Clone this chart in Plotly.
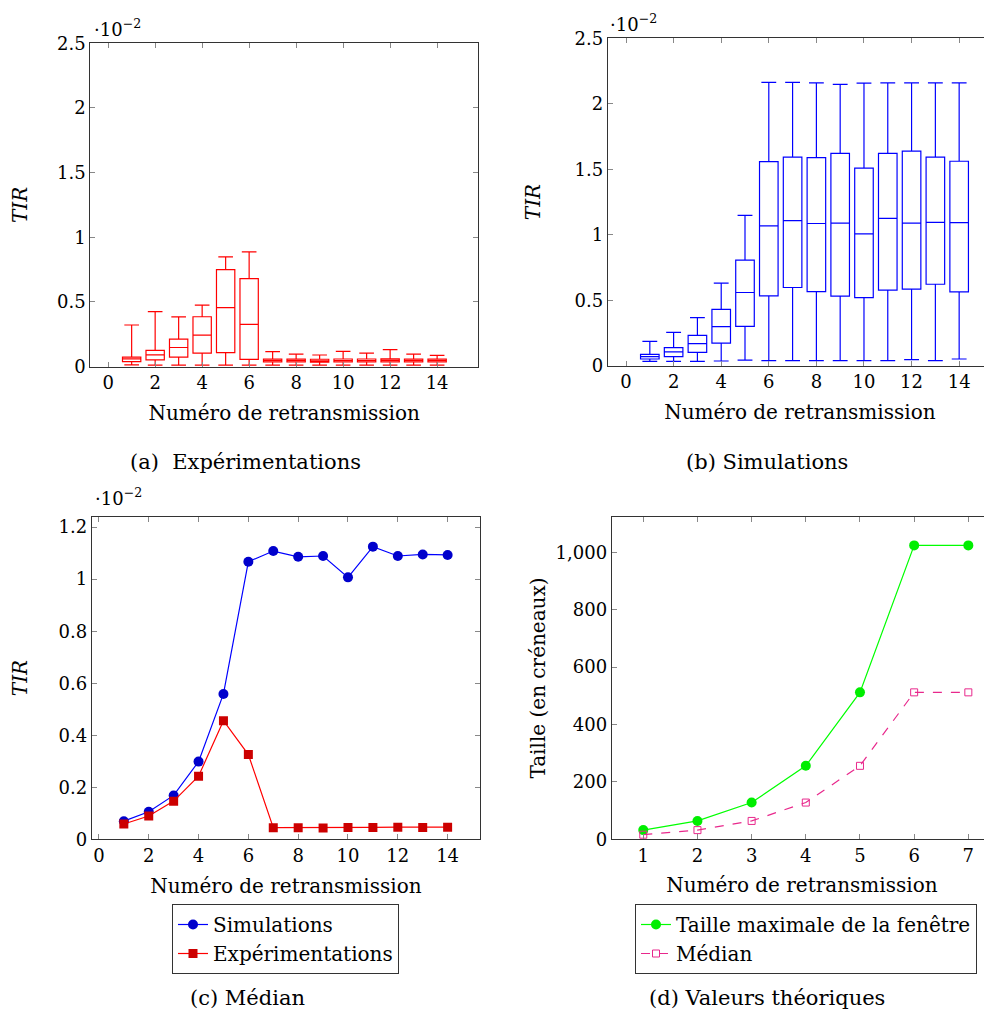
import plotly.graph_objects as go

# ---------------- data ----------------
retrans = list(range(1, 15))

# (a) Expérimentations  (TIR, units of 1e-2)
exp_low = [0.013, 0.010, 0.010, 0.010, 0.010, 0.010, 0.010, 0.010, 0.010, 0.010, 0.010, 0.010, 0.010, 0.010]
exp_q1 = [0.037, 0.052, 0.072, 0.104, 0.107, 0.055, 0.035, 0.035, 0.034, 0.035, 0.035, 0.036, 0.035, 0.036]
exp_med = [0.059, 0.090, 0.147, 0.243, 0.456, 0.326, 0.045, 0.045, 0.044, 0.046, 0.046, 0.047, 0.046, 0.047]
exp_q3 = [0.072, 0.125, 0.211, 0.385, 0.750, 0.680, 0.057, 0.057, 0.056, 0.058, 0.058, 0.059, 0.057, 0.058]
exp_up = [0.321, 0.425, 0.384, 0.474, 0.848, 0.886, 0.115, 0.096, 0.089, 0.117, 0.104, 0.131, 0.096, 0.086]

# (b) Simulations (TIR, units of 1e-2)
sim_low = [0.033, 0.033, 0.033, 0.036, 0.043, 0.038, 0.038, 0.038, 0.038, 0.038, 0.038, 0.046, 0.038, 0.051]
sim_q1 = [0.051, 0.069, 0.102, 0.173, 0.301, 0.533, 0.597, 0.566, 0.531, 0.520, 0.577, 0.584, 0.622, 0.564]
sim_med = [0.070, 0.106, 0.169, 0.299, 0.559, 1.067, 1.108, 1.086, 1.089, 1.007, 1.125, 1.089, 1.095, 1.093]
sim_q3 = [0.087, 0.138, 0.232, 0.430, 0.806, 1.559, 1.592, 1.589, 1.622, 1.508, 1.622, 1.638, 1.592, 1.561]
sim_up = [0.186, 0.255, 0.367, 0.630, 1.148, 2.163, 2.163, 2.160, 2.148, 2.158, 2.160, 2.160, 2.160, 2.160]

# (d) Valeurs théoriques
retrans_d = [1, 2, 3, 4, 5, 6, 7]
taille_max = [32, 64, 128, 256, 512, 1024, 1024]
taille_med = [16, 32, 64, 128, 256, 512, 512]

# ---------------- layout helpers ----------------
W, H = 992, 1014
OFF = 8  # page body margin
FONT = "DejaVu Serif"
FS = 18   # tick labels
FT = 20   # axis titles / legend
FC = 21   # sub-captions


def fx(px):
    return (px - OFF) / W


def fy(py):
    return 1 - (py - OFF) / H


fig = go.Figure()

box_common = dict(boxpoints=False, showlegend=False, fillcolor="rgba(0,0,0,0)",
                  width=0.78, whiskerwidth=0.8, hoverinfo="skip")

fig.add_trace(go.Box(x=retrans, q1=exp_q1, median=exp_med, q3=exp_q3,
                     lowerfence=exp_low, upperfence=exp_up,
                     line=dict(color="#ff0000", width=1.2),
                     xaxis="x", yaxis="y", **box_common))

fig.add_trace(go.Box(x=retrans, q1=sim_q1, median=sim_med, q3=sim_q3,
                     lowerfence=sim_low, upperfence=sim_up,
                     line=dict(color="#0000ff", width=1.2),
                     xaxis="x2", yaxis="y2", **box_common))

fig.add_trace(go.Scatter(x=retrans, y=sim_med, mode="lines+markers", name="Simulations",
                         line=dict(color="#0000ff", width=1.2),
                         marker=dict(symbol="circle", size=10, color="#0000cc"),
                         xaxis="x3", yaxis="y3", legend="legend"))
fig.add_trace(go.Scatter(x=retrans, y=exp_med, mode="lines+markers", name="Expérimentations",
                         line=dict(color="#ff0000", width=1.2),
                         marker=dict(symbol="square", size=9, color="#cc0000"),
                         xaxis="x3", yaxis="y3", legend="legend"))

fig.add_trace(go.Scatter(x=retrans_d, y=taille_max, mode="lines+markers",
                         name="Taille maximale de la fenêtre",
                         line=dict(color="#00ff00", width=1.2),
                         marker=dict(symbol="circle", size=10, color="#00ee00"),
                         xaxis="x4", yaxis="y4", legend="legend2"))
fig.add_trace(go.Scatter(x=retrans_d, y=taille_med, mode="lines+markers", name="Médian",
                         line=dict(color="#e8288c", width=1.2, dash="dash"),
                         marker=dict(symbol="square-open", size=7, color="#e8288c",
                                     line=dict(width=1, color="#e8288c")),
                         xaxis="x4", yaxis="y4", legend="legend2"))

tickfont = dict(family=FONT, size=FS, color="black")
axis_common = dict(showline=True, linecolor="#333333", linewidth=1, mirror="allticks",
                   ticks="inside", ticklen=5, tickcolor="#888888", showgrid=False,
                   zeroline=False, tickfont=tickfont, automargin=False)


def xtitle(text):
    return dict(text=text, font=dict(family=FONT, size=FT, color="black"), standoff=13)


def ytitle(text, standoff):
    return dict(text=text, font=dict(family=FONT, size=FT, color="black"), standoff=standoff)


fig.update_layout(
    width=W, height=H, template="none",
    paper_bgcolor="white", plot_bgcolor="white",
    margin=dict(l=0, r=0, t=0, b=0),
    font=dict(family=FONT, size=FS, color="black"),
    xaxis=dict(domain=[fx(90.3), fx(478)], anchor="y", range=[-0.76, 15.74],
               tickvals=list(range(0, 15, 2)), title=xtitle("Numéro de retransmission"), **axis_common),
    yaxis=dict(domain=[fy(366.5), fy(43.3)], anchor="x", range=[0, 2.5], dtick=0.5,
               title=ytitle("<i>TIR</i>", 28), **axis_common),
    xaxis2=dict(domain=[fx(607.7), fx(992)], anchor="y2", range=[-0.77, 15.38],
                tickvals=list(range(0, 15, 2)), title=xtitle("Numéro de retransmission"), **axis_common),
    yaxis2=dict(domain=[fy(365.7), fy(38.3)], anchor="x2", range=[0, 2.5], dtick=0.5,
                title=ytitle("<i>TIR</i>", 28), **axis_common),
    xaxis3=dict(domain=[fx(91.7), fx(480)], anchor="y3", range=[-0.29, 15.3],
                tickvals=list(range(0, 15, 2)), title=xtitle("Numéro de retransmission"), **axis_common),
    yaxis3=dict(domain=[fy(839.4), fy(516.7)], anchor="x3", range=[0, 1.24], dtick=0.2,
                title=ytitle("<i>TIR</i>", 28), **axis_common),
    xaxis4=dict(domain=[fx(611.7), fx(992)], anchor="y4", range=[0.417, 7.437],
                tickvals=retrans_d, title=xtitle("Numéro de retransmission"), **axis_common),
    yaxis4=dict(domain=[fy(839.3), fy(516.7)], anchor="x4", range=[0, 1124], dtick=200,
                tickformat=",", title=ytitle("Taille (en créneaux)", 4), **axis_common),
    legend=dict(x=fx(285.5), y=fy(904), xanchor="center", yanchor="top",
                bordercolor="#333333", borderwidth=1, bgcolor="white",
                font=dict(family=FONT, size=FT, color="black"), tracegroupgap=0),
    legend2=dict(x=fx(806), y=fy(904), xanchor="center", yanchor="top",
                 bordercolor="#333333", borderwidth=1, bgcolor="white",
                 font=dict(family=FONT, size=FT, color="black"), tracegroupgap=0),
)

annots = [
    dict(x=fx(92), y=fy(28), text="·10<sup>−2</sup>"),
    dict(x=fx(608), y=fy(23), text="·10<sup>−2</sup>"),
    dict(x=fx(93), y=fy(497), text="·10<sup>−2</sup>"),
]
for a in annots:
    fig.add_annotation(xref="paper", yref="paper", xanchor="left", yanchor="middle",
                       showarrow=False, font=dict(family=FONT, size=FS, color="black"), **a)

captions = [
    (245, 462, "(a)&nbsp; Expérimentations"),
    (767, 462, "(b) Simulations"),
    (247, 998, "(c) Médian"),
    (767, 998, "(d) Valeurs théoriques"),
]
for cx, cy, t in captions:
    fig.add_annotation(xref="paper", yref="paper", x=fx(cx), y=fy(cy), text=t,
                       xanchor="center", yanchor="middle", showarrow=False,
                       font=dict(family=FONT, size=FC, color="black"))

fig.write_html("out.html")
